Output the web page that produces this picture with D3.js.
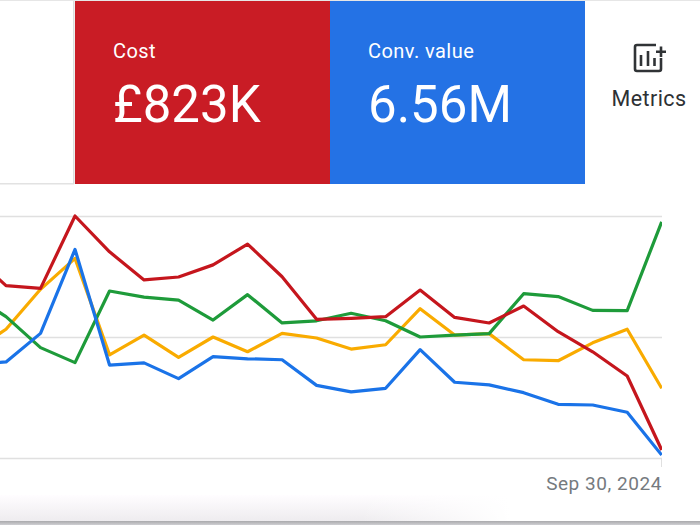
<!DOCTYPE html>
<html>
<head>
<meta charset="utf-8">
<script src="https://cdn.jsdelivr.net/npm/d3@7/dist/d3.min.js"></script>
<style>
html,body{margin:0;padding:0;background:#fff;overflow:hidden}
svg{display:block}
text{font-family:Roboto,sans-serif}
</style>
</head>
<body>
<svg id="c" width="700" height="525"></svg>
<script>
const costValues = [84.3,71.2,70.1,100,85.2,73.6,74.8,79.8,88.4,74.9,57.3,57.7,58.4,69.4,58.1,55.8,62.8,52.2,43.9,33.9,3.3];
const greenValues = [67.8,58.4,45.6,39.4,69,66.5,65.2,57,67.5,55.8,56.7,59.8,56.7,50,50.8,51.4,67.9,66.7,61,60.9,97.6];
const orangeValues = [43.8,53.2,69.7,82.5,42.6,50.8,41.6,50,43.9,51.5,49.6,45,46.8,61.7,50.8,51.4,40.6,40.2,47.6,53.2,28.8];
const convValues = [38.4,39.7,51.5,86.2,38.4,39.3,32.8,41.9,41,40.6,30,27.3,28.8,44.8,31.3,30.2,27,22.2,21.9,18.9,1.2];
const gridTicks = [0,50,100];
const endLabel = "Sep 30, 2024";
const cards = [
  {label:"Cost", value:"£823K", color:"#c91c25"},
  {label:"Conv. value", value:"6.56M", color:"#2472e5"}
];
const seriesList = [
  {values:orangeValues,color:"#f9ab00"},
  {values:greenValues,color:"#1e9b3a"},
  {values:costValues,color:"#c5161d"},
  {values:convValues,color:"#1a73e8"}
];

const svg = d3.select("#c");
const defs = svg.append("defs");
defs.append("clipPath").attr("id","plot").append("rect").attr("x",0).attr("y",205).attr("width",662).attr("height",262);
const sh = defs.append("linearGradient").attr("id","shadow").attr("x1",0).attr("x2",0).attr("y1",0).attr("y2",1);
sh.append("stop").attr("offset",0).attr("stop-color","#a9a9ac");
sh.append("stop").attr("offset",1).attr("stop-color","#cfcfd3");
const vg = defs.append("linearGradient").attr("id","vfade").attr("x1",0).attr("x2",0).attr("y1",0).attr("y2",1);
vg.append("stop").attr("offset",0).attr("stop-color","#fffdff");
vg.append("stop").attr("offset",1).attr("stop-color","#eeecef");
const hg = defs.append("linearGradient").attr("id","hfade").attr("x1",0).attr("x2",1).attr("y1",0).attr("y2",0);
hg.append("stop").attr("offset",0).attr("stop-color","#fff").attr("stop-opacity",0);
hg.append("stop").attr("offset",1).attr("stop-color","#fff").attr("stop-opacity",1);

// window frame
svg.append("rect").attr("x",0).attr("y",0).attr("width",700).attr("height",1).attr("fill","#e6e6e6");
svg.append("rect").attr("x",0).attr("y",183).attr("width",74).attr("height",1.5).attr("fill","#e2e2e2");
svg.append("rect").attr("x",73).attr("y",1).attr("width",1.5).attr("height",183).attr("fill","#dcdcdc");

// metric cards
const cardX = d3.scaleBand().domain(d3.range(cards.length)).range([75,585]);
const g = svg.selectAll("g.card").data(cards).join("g").attr("class","card")
  .attr("transform",(d,i)=>`translate(${cardX(i)},1)`);
g.append("rect").attr("width",cardX.bandwidth()).attr("height",183).attr("fill",d=>d.color);
g.append("text").attr("x",38).attr("y",56.5).attr("fill","#fff").attr("font-size",20).attr("letter-spacing",0.45).text(d=>d.label);
g.append("text").attr("x",38).attr("y",121).attr("fill","#fff").attr("font-size",51).text(d=>d.value);

// metrics button
const ic = svg.append("g").attr("fill","none").attr("stroke","#303336").attr("stroke-width",2.6);
ic.append("path").attr("d","M656 45H637a2 2 0 0 0 -2 2V69a2 2 0 0 0 2 2H659a2 2 0 0 0 2 -2V58");
ic.append("path").attr("d","M641 55V66M648 51V66M654.500 58V66");
ic.append("path").attr("d","M661 46.500V57M656 51.700H666");
svg.append("text").attr("x",649).attr("y",106).attr("text-anchor","middle").attr("fill","#2e3134").attr("font-size",21.5).attr("letter-spacing",0.4).text("Metrics");

// chart
const x = d3.scaleLinear().domain([0,costValues.length-1]).range([-28.5,661.7]);
const y = d3.scaleLinear().domain([0,100]).range([458,216]);
const grid = svg.append("g").call(d3.axisRight(y).tickValues(gridTicks).tickSize(662).tickFormat(""));
grid.select(".domain").remove();
grid.selectAll("line").attr("stroke","#e0e0e0").attr("stroke-width",1.5);
const line = d3.line().x((d,i)=>x(i)).y(d=>y(d));
svg.append("g").attr("clip-path","url(#plot)").selectAll("path").data(seriesList).join("path")
  .attr("d",d=>line(d.values)).attr("fill","none").attr("stroke",d=>d.color)
  .attr("stroke-width",3.2).attr("stroke-linejoin","round");
svg.append("line").attr("x1",661.5).attr("x2",661.5).attr("y1",458).attr("y2",467).attr("stroke","#e0e0e0");
svg.append("text").attr("x",662).attr("y",490).attr("text-anchor","end").attr("fill","#757a7e").attr("font-size",19).attr("letter-spacing",0.55).text(endLabel);

// bottom window shadow
svg.append("rect").attr("x",0).attr("y",495).attr("width",700).attr("height",26).attr("fill","url(#vfade)");
svg.append("rect").attr("x",360).attr("y",495).attr("width",150).attr("height",26).attr("fill","url(#hfade)");
svg.append("rect").attr("x",510).attr("y",495).attr("width",190).attr("height",26).attr("fill","#fff");
svg.append("rect").attr("x",0).attr("y",521).attr("width",700).attr("height",4).attr("fill","url(#shadow)");
</script>
</body>
</html>
